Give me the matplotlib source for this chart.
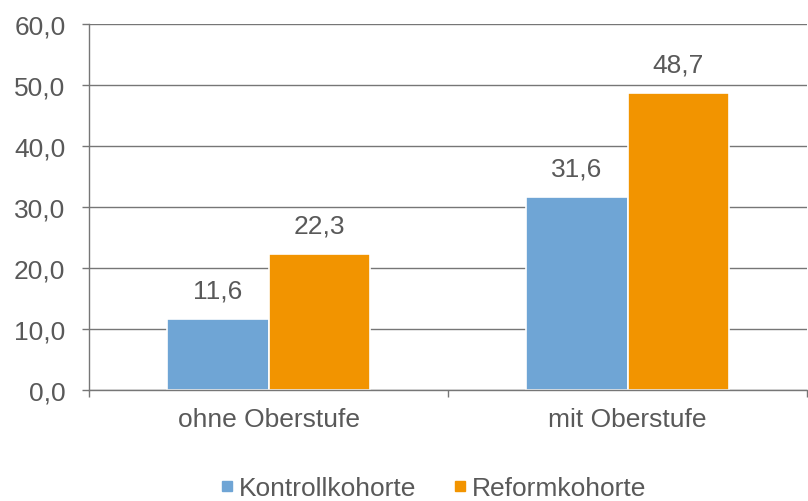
import matplotlib
matplotlib.use("Agg")
import matplotlib.pyplot as plt
from matplotlib.lines import Line2D
import numpy as np

categories = ["ohne Oberstufe", "mit Oberstufe"]
series_names = ["Kontrollkohorte", "Reformkohorte"]
kontroll = [11.6, 31.6]
reform = [22.3, 48.7]

C_BLUE = "#6FA5D5"
C_ORANGE = "#F29400"
C_GRID = "#767676"
C_TEXT = "#595959"
FS = 19

plt.rcParams["font.family"] = ["Liberation Sans", "DejaVu Sans"]

fig = plt.figure(figsize=(8.08, 5.02), dpi=100)
ax = fig.add_axes([89 / 808, 1 - 391 / 502, 718 / 808, 366 / 502])

x = np.arange(len(categories))
w = 0.284
bars1 = ax.bar(x - w / 2, kontroll, w, color=C_BLUE, edgecolor="white",
               linewidth=1.2, zorder=2)
bars2 = ax.bar(x + w / 2, reform, w, color=C_ORANGE, edgecolor="white",
               linewidth=1.2, zorder=2)

# value labels above each bar, German decimal comma
for bars, vals in ((bars1, kontroll), (bars2, reform)):
    for b, v in zip(bars, vals):
        ax.annotate(f"{v:.1f}".replace(".", ","),
                    (b.get_x() + b.get_width() / 2, v),
                    textcoords="offset points", xytext=(0, 12),
                    ha="center", va="bottom", fontsize=FS, color=C_TEXT)

ax.set_xlim(-0.5, 1.5)
ax.set_ylim(0, 60)
ax.set_yticks(np.arange(0, 61, 10))
ax.set_yticklabels([f"{v:.1f}".replace(".", ",") for v in np.arange(0, 61, 10)])
ax.set_xticks(x)
ax.set_xticklabels(categories)
ax.set_xticks([-0.5, 0.5, 1.5], minor=True)

ax.yaxis.grid(True, color=C_GRID, linewidth=1.0, zorder=0)
ax.set_axisbelow(True)
ax.tick_params(axis="y", length=5, width=1.0, color=C_GRID, labelsize=FS,
               labelcolor=C_TEXT, pad=12)
ax.tick_params(axis="x", which="major", length=0, labelsize=FS,
               labelcolor=C_TEXT, pad=12)
ax.tick_params(axis="x", which="minor", length=5, width=1.0, color=C_GRID)

for side in ("top", "right"):
    ax.spines[side].set_visible(False)
for side in ("left", "bottom"):
    ax.spines[side].set_color(C_GRID)
    ax.spines[side].set_linewidth(1.0)

handles = [Line2D([], [], marker="s", linestyle="none", markersize=7.5,
                  color=c) for c in (C_BLUE, C_ORANGE)]
fig.legend(handles, series_names, loc="center", ncol=2,
           bbox_to_anchor=(0.536, 1 - 489 / 502), frameon=False,
           fontsize=FS, labelcolor=C_TEXT, handlelength=0.5,
           handletextpad=0.2, columnspacing=1.4)

fig.savefig("out.png", dpi=100, facecolor="white")
